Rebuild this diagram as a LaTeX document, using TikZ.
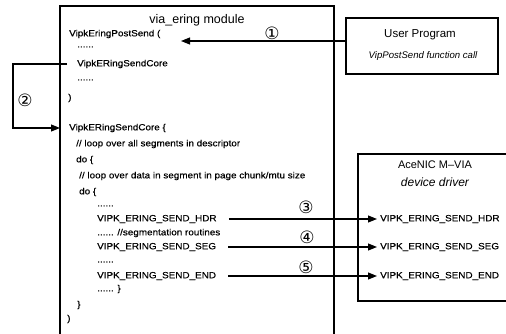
\documentclass[tikz,border=0pt]{standalone}
\usepackage{fontspec}
\setmainfont{Liberation Sans}
\newfontfamily\codefont{Liberation Sans}[FakeStretch=1.1,FakeBold=0.4]
\newfontfamily\symfont{DejaVu Sans}
\usetikzlibrary{arrows.meta}
\begin{document}
\begin{tikzpicture}[x=1pt,y=-1pt,
  code/.style={anchor=west,inner sep=0pt,font=\codefont\fontsize{9}{11}\selectfont},
  num/.style={inner sep=0pt,font=\symfont\fontsize{17}{17}\selectfont},
  arr/.style={line width=1.1pt,-{Triangle[length=9pt,width=7pt]}},
  frame/.style={draw,line width=1.7pt,inner sep=0pt,anchor=north west},
  head/.style={inner sep=0pt,font=\fontsize{12.5}{14}\selectfont}]
\useasboundingbox (0,0) rectangle (506,334);

% via_ering module: frame left open at the bottom
\draw[line width=2pt] (334,345) -- (334,6) -- (60,6) -- (60,345);
\draw[line width=2.8pt] (60,6) -- (60,345);
\node[head] (title) at (197,20) {via\_ering module};

% code listing
\node[code] (post)  at (69,34)  {VipkEringPostSend (};
\node[code] (d1)    at (77,47)  {......};
\node[code] (scall) at (77,64)  {VipkERingSendCore};
\node[code] (d2)    at (77,80)  {......};
\node[code] (c1)    at (68,98)  {)};
\node[code] (sdef)  at (69,128) {VipkERingSendCore \{};
\node[code] (cm1)   at (76,144) {// loop over all segments in descriptor};
\node[code] (do1)   at (76,160) {do \{};
\node[code] (cm2)   at (79,176) {// loop over data in segment in page chunk/mtu size};
\node[code] (do2)   at (79,192) {do \{};
\node[code] (d3)    at (97,206) {......};
\node[code] (hdrL)  at (97,219) {VIPK\_ERING\_SEND\_HDR};
\node[code] (segr)  at (97,233) {...... //segmentation routines};
\node[code] (segL)  at (97,247) {VIPK\_ERING\_SEND\_SEG};
\node[code] (d4)    at (97,262) {......};
\node[code] (endL)  at (97,276) {VIPK\_ERING\_SEND\_END};
\node[code] (d5)    at (97,289) {...... \}};
\node[code] (c2)    at (77,305) {\}};
\node[code] (c3)    at (67,319) {)};

% user program
\node[frame,minimum width=152pt,minimum height=56pt] (user) at (345,17) {};
\node[inner sep=0pt,font=\fontsize{11.5}{13}\selectfont] (utitle) at (420,35) {User Program};
\node[inner sep=0pt,font=\itshape\fontsize{9.6}{12}\selectfont] (usub) at (423,56) {VipPostSend function call};

% device driver
\node[frame,minimum width=152pt,minimum height=147pt] (nic) at (357,153) {};
\node[head,font=\fontsize{11}{13}\selectfont] (ntitle) at (435,165) {AceNIC M--VIA};
\node[head,font=\itshape\fontsize{12}{14}\selectfont] (nsub) at (435,182) {device driver};
\node[code] (hdrR) at (380,219) {VIPK\_ERING\_SEND\_HDR};
\node[code] (segR) at (380,247) {VIPK\_ERING\_SEND\_SEG};
\node[code] (endR) at (380,276) {VIPK\_ERING\_SEND\_END};

% (1) call from the user program
\coordinate (p1) at (181,41);
\draw[arr] (user.west |- p1) -- (p1);
\node[num] (n1) at (272,33) {①};

% (2) jump to the core routine
\coordinate (loopL) at (13,96);
\draw[arr] ([xshift=-10pt]scall.west) -| (loopL) |- ([xshift=-9pt]sdef.west);
\node[num] (n2) at (25,100) {②};

% (3)-(5) driver calls
\draw[arr] ([xshift=12pt]hdrL.east) -- ([xshift=-3pt]hdrR.west);
\draw[arr] ([xshift=12pt]segL.east) -- ([xshift=-3pt]segR.west);
\draw[arr] ([xshift=12pt]endL.east) -- ([xshift=-3pt]endR.west);
\node[num] (n3) at (306,207) {③};
\node[num] (n4) at (307,237) {④};
\node[num] (n5) at (306,267) {⑤};
\end{tikzpicture}
\end{document}
